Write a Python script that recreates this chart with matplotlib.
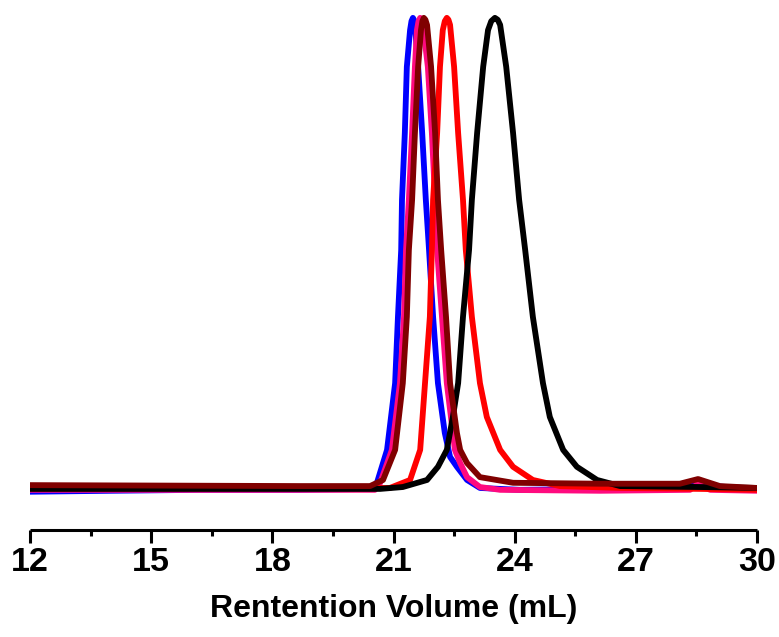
import matplotlib
matplotlib.use("Agg")
import matplotlib.pyplot as plt
from matplotlib.ticker import MultipleLocator

plt.rcParams['font.family'] = ['Liberation Sans', 'DejaVu Sans']

# GPC traces (retention volume in mL, normalised signal)
blue_x = [12.00, 14.0, 16.2, 18.7, 20.42, 20.59, 20.84, 21.04, 21.11, 21.19, 21.21, 21.28, 21.33, 21.41,
          21.445, 21.48, 21.505, 21.53, 21.61, 21.71, 21.80, 21.88, 21.98, 22.10, 22.27, 22.40, 22.57,
          22.82, 23.14, 24.13, 26.11, 28.09, 28.5, 30.0]
blue_y = [-0.008, -0.006, -0.004, -0.004, -0.002, 0.011, 0.081, 0.223, 0.364, 0.506, 0.613, 0.755, 0.896, 0.974,
          0.993, 1.0, 0.996, 0.985, 0.896, 0.755, 0.613, 0.506, 0.364, 0.223, 0.117, 0.066, 0.045,
          0.017, 0.0, -0.004, -0.002, 0.002, 0.006, -0.002]

pink_x = [12.0, 20.54, 20.67, 20.96, 21.16, 21.26, 21.31, 21.38, 21.46, 21.53, 21.58, 21.62, 21.66, 21.695,
          21.73, 21.85, 21.95, 22.03, 22.08, 22.20, 22.32, 22.47, 22.52, 22.65, 22.82, 23.14, 23.64,
          26.11, 28.34, 28.54, 28.84, 30.0]
pink_y = [-0.004, -0.004, 0.011, 0.081, 0.223, 0.364, 0.506, 0.613, 0.755, 0.896, 0.974, 0.993, 1.0, 0.996,
          0.985, 0.896, 0.755, 0.613, 0.506, 0.364, 0.223, 0.117, 0.081, 0.053, 0.023, 0.002, -0.004,
          -0.006, -0.004, 0.009, -0.004, -0.006]

red_x = [12.0, 20.91, 21.41, 21.66, 21.78, 21.90, 21.95, 21.98, 22.08, 22.15, 22.22, 22.27, 22.32, 22.36,
         22.40, 22.50, 22.60, 22.72, 22.79, 22.94, 23.14, 23.31, 23.64, 23.96, 24.45, 25.12, 26.61,
         28.59, 30.0]
red_y = [-0.002, 0.0, 0.017, 0.081, 0.223, 0.364, 0.506, 0.613, 0.755, 0.896, 0.974, 0.993, 1.0, 0.996,
         0.985, 0.896, 0.755, 0.613, 0.506, 0.364, 0.223, 0.151, 0.081, 0.045, 0.017, 0.004, 0.0,
         -0.002, -0.004]

black_x = [12.0, 20.67, 21.23, 21.83, 22.10, 22.32, 22.47, 22.60, 22.72, 22.87, 22.94, 23.07, 23.22, 23.34,
           23.42, 23.51, 23.58, 23.64, 23.79, 23.96, 24.11, 24.26, 24.45, 24.70, 24.87, 25.20, 25.54,
           26.04, 26.61, 28.59, 30.0]
black_y = [-0.002, -0.002, 0.002, 0.017, 0.045, 0.081, 0.151, 0.223, 0.364, 0.506, 0.613, 0.755, 0.896, 0.974,
           0.993, 1.0, 0.996, 0.985, 0.896, 0.755, 0.613, 0.506, 0.364, 0.223, 0.151, 0.081, 0.045,
           0.017, 0.004, 0.002, 0.0]

dred_x = [12.0, 18.68, 20.42, 20.74, 21.04, 21.23, 21.33, 21.38, 21.46, 21.53, 21.61, 21.68, 21.715, 21.75,
          21.79, 21.83, 21.93, 22.03, 22.10, 22.18, 22.30, 22.40, 22.57, 22.65, 22.82, 23.14, 23.96,
          26.11, 28.09, 28.54, 29.08, 30.0]
dred_y = [0.006, 0.004, 0.004, 0.017, 0.081, 0.223, 0.364, 0.506, 0.613, 0.755, 0.896, 0.974, 0.993, 1.0,
          0.996, 0.985, 0.896, 0.755, 0.613, 0.506, 0.364, 0.223, 0.117, 0.081, 0.053, 0.023, 0.011,
          0.009, 0.009, 0.019, 0.004, 0.0]

fig = plt.figure(figsize=(7.79, 6.37), dpi=100)
ax = fig.add_axes([0.0385, 0.168, 0.9333, 0.832])

lw = 4.2
ax.plot(blue_x, blue_y, color='#0000FF', lw=lw, solid_joinstyle='round')
ax.plot(pink_x, pink_y, color='#FF0A7F', lw=lw, solid_joinstyle='round')
ax.plot(red_x, red_y, color='#FF0000', lw=lw, solid_joinstyle='round')
ax.plot(black_x, black_y, color='#000000', lw=lw, solid_joinstyle='round')
ax.plot(dred_x, dred_y, color='#800000', lw=lw, solid_joinstyle='round')

ax.set_xlim(12, 30)
ax.set_ylim(-0.0894, 1.038)

for s in ['left', 'right', 'top']:
    ax.spines[s].set_visible(False)
ax.spines['bottom'].set_linewidth(2.2)
ax.spines['bottom'].set_capstyle('butt')
ax.set_yticks([])

ax.xaxis.set_major_locator(MultipleLocator(3))
ax.xaxis.set_minor_locator(MultipleLocator(1.5))
ax.tick_params(axis='x', which='major', length=9, width=2.2, labelsize=24.5, pad=3)
ax.tick_params(axis='x', which='minor', length=4.5, width=2.2)
for lab in ax.get_xticklabels():
    lab.set_fontweight('bold')

ax.set_xlabel('Rentention Volume (mL)', fontsize=23, fontweight='bold', labelpad=12)

fig.savefig('out.png', dpi=100)
